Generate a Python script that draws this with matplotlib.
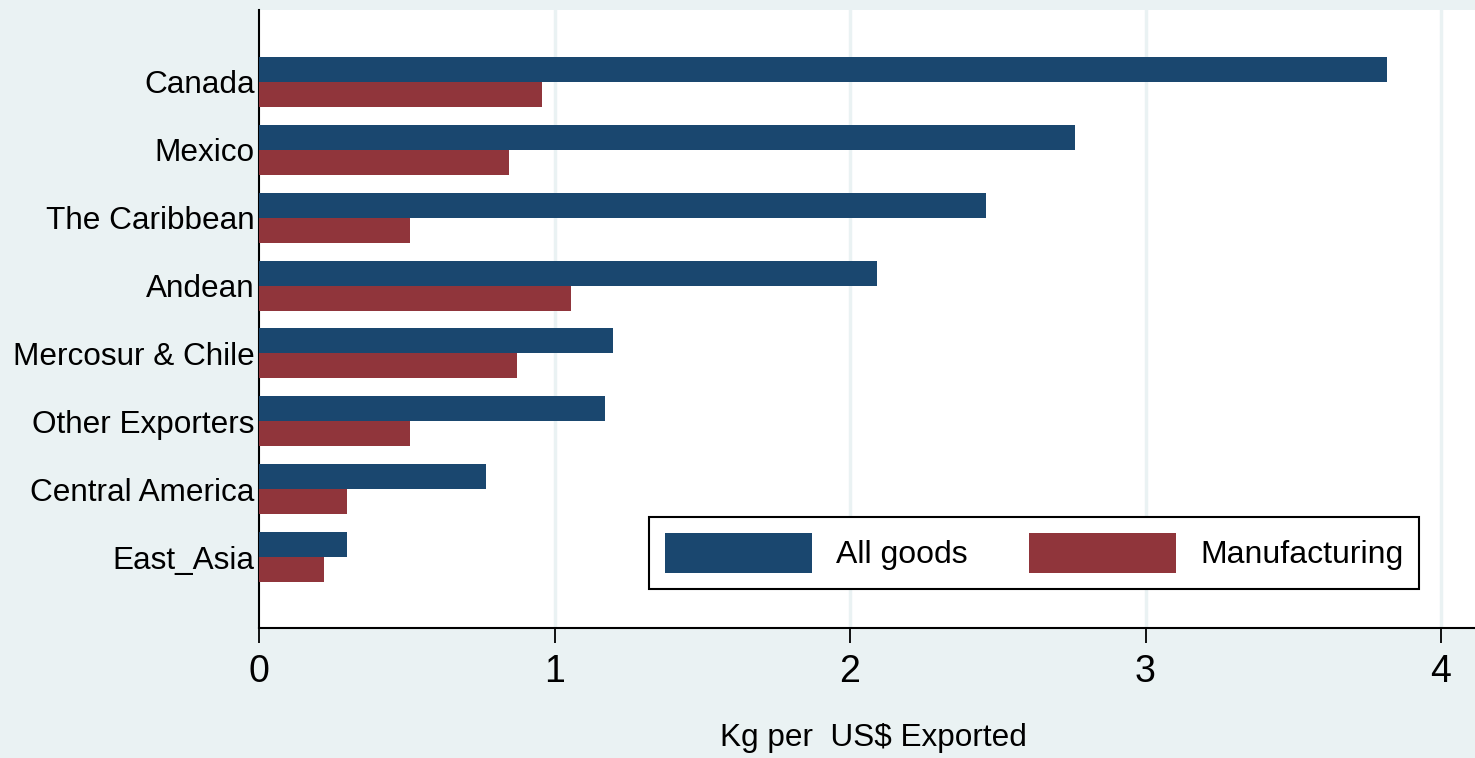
import matplotlib
matplotlib.use("Agg")
import matplotlib.pyplot as plt
import numpy as np

categories = ["Canada", "Mexico", "The Caribbean", "Andean", "Mercosur & Chile",
              "Other Exporters", "Central America", "East_Asia"]
all_goods = [3.817, 2.761, 2.460, 2.091, 1.198, 1.171, 0.768, 0.298]
manufacturing = [0.958, 0.846, 0.511, 1.056, 0.873, 0.511, 0.298, 0.220]
xticks = [0, 1, 2, 3, 4]

plt.rcParams['font.family'] = ['Liberation Sans', 'DejaVu Sans']

BG = "#EAF2F3"
NAVY = "#1A476F"
MAROON = "#90353B"

fig = plt.figure(figsize=(14.75, 7.58), dpi=100, facecolor=BG)
ax = fig.add_axes([259/1475, 130/758, 1 - 259/1475, (628-10)/758])
ax.set_facecolor("white")

n = len(categories)
pos = np.arange(n)[::-1]
h = 0.368
ax.barh(pos + h/2, all_goods, height=h, color=NAVY, label="All goods", zorder=3)
ax.barh(pos - h/2, manufacturing, height=h, color=MAROON, label="Manufacturing", zorder=3)

ax.set_xlim(0, (1475-259)/295.5)
ax.set_ylim(-1.045, n - 1 + 1.06)
ax.set_xticks(xticks)
ax.set_xticklabels([str(t) for t in xticks], fontsize=27)
ax.set_yticks(pos)
ax.set_yticklabels(categories, fontsize=22.7)
ax.tick_params(axis='y', length=0, pad=3)
ax.tick_params(axis='x', length=11, width=1.3, pad=8, color='black')

for t in xticks[1:]:
    ax.axvline(t, color=BG, lw=2.5, zorder=1)

for s in ['top', 'right']:
    ax.spines[s].set_visible(False)
for s in ['left', 'bottom']:
    ax.spines[s].set_linewidth(1.5)
    ax.spines[s].set_color('black')

fig.text((721+1026)/2/1475, 1 - 738/758, "Kg per  US$ Exported", fontsize=22.7,
         ha='center', va='center')

leg = ax.legend(loc='upper left', bbox_to_anchor=(649/1475, 1 - 517/758),
                bbox_transform=fig.transFigure, ncol=2, fontsize=23,
                frameon=True, fancybox=False, shadow=False,
                handlelength=4.6, handleheight=1.55, handletextpad=0.74,
                columnspacing=1.95, borderpad=0.5, borderaxespad=0)
leg.get_frame().set_edgecolor('black')
leg.get_frame().set_linewidth(1.5)
leg.get_frame().set_facecolor('white')
leg.get_frame().set_alpha(1)

fig.savefig("out.png", dpi=100, facecolor=BG)
